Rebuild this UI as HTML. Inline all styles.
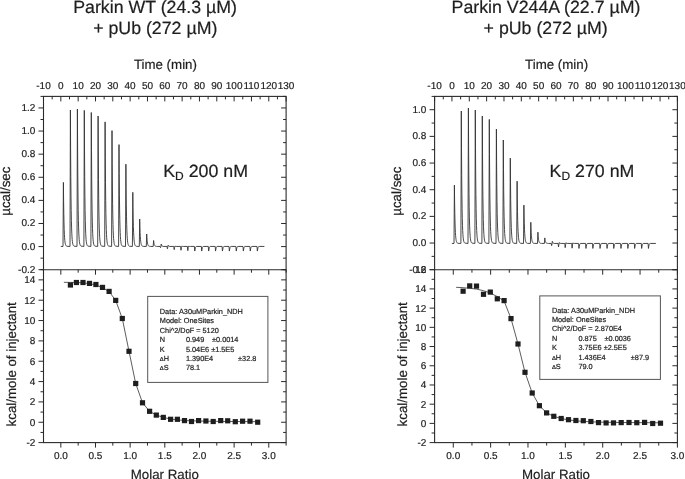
<!DOCTYPE html>
<html><head><meta charset="utf-8"><style>
html,body{margin:0;padding:0;background:#fff;}
body{width:685px;height:479px;overflow:hidden;}
svg{display:block;will-change:transform;}
text{font-family:"Liberation Sans",sans-serif;fill:#1e1e1e;text-rendering:geometricPrecision;stroke:#1e1e1e;stroke-width:0.2px;}
</style></head><body>
<svg width="685" height="479" viewBox="0 0 685 479">
<rect x="43.5" y="96.4" width="242.6" height="346.2" fill="none" stroke="#2a2a2a" stroke-width="1.1"/>
<line x1="43.5" y1="269.7" x2="286.1" y2="269.7" stroke="#2a2a2a" stroke-width="1.1"/>
<line x1="43.5" y1="96.4" x2="43.5" y2="101.4" stroke="#2a2a2a" stroke-width="1.0"/>
<text x="43.5" y="89.4" font-size="10" text-anchor="middle" >-10</text>
<line x1="52.16" y1="96.4" x2="52.16" y2="99.4" stroke="#2a2a2a" stroke-width="1.0"/>
<line x1="60.83" y1="96.4" x2="60.83" y2="101.4" stroke="#2a2a2a" stroke-width="1.0"/>
<text x="60.83" y="89.4" font-size="10" text-anchor="middle" >0</text>
<line x1="69.49" y1="96.4" x2="69.49" y2="99.4" stroke="#2a2a2a" stroke-width="1.0"/>
<line x1="78.16" y1="96.4" x2="78.16" y2="101.4" stroke="#2a2a2a" stroke-width="1.0"/>
<text x="78.16" y="89.4" font-size="10" text-anchor="middle" >10</text>
<line x1="86.82" y1="96.4" x2="86.82" y2="99.4" stroke="#2a2a2a" stroke-width="1.0"/>
<line x1="95.49" y1="96.4" x2="95.49" y2="101.4" stroke="#2a2a2a" stroke-width="1.0"/>
<text x="95.49" y="89.4" font-size="10" text-anchor="middle" >20</text>
<line x1="104.15" y1="96.4" x2="104.15" y2="99.4" stroke="#2a2a2a" stroke-width="1.0"/>
<line x1="112.81" y1="96.4" x2="112.81" y2="101.4" stroke="#2a2a2a" stroke-width="1.0"/>
<text x="112.81" y="89.4" font-size="10" text-anchor="middle" >30</text>
<line x1="121.48" y1="96.4" x2="121.48" y2="99.4" stroke="#2a2a2a" stroke-width="1.0"/>
<line x1="130.14" y1="96.4" x2="130.14" y2="101.4" stroke="#2a2a2a" stroke-width="1.0"/>
<text x="130.14" y="89.4" font-size="10" text-anchor="middle" >40</text>
<line x1="138.81" y1="96.4" x2="138.81" y2="99.4" stroke="#2a2a2a" stroke-width="1.0"/>
<line x1="147.47" y1="96.4" x2="147.47" y2="101.4" stroke="#2a2a2a" stroke-width="1.0"/>
<text x="147.47" y="89.4" font-size="10" text-anchor="middle" >50</text>
<line x1="156.14" y1="96.4" x2="156.14" y2="99.4" stroke="#2a2a2a" stroke-width="1.0"/>
<line x1="164.8" y1="96.4" x2="164.8" y2="101.4" stroke="#2a2a2a" stroke-width="1.0"/>
<text x="164.8" y="89.4" font-size="10" text-anchor="middle" >60</text>
<line x1="173.46" y1="96.4" x2="173.46" y2="99.4" stroke="#2a2a2a" stroke-width="1.0"/>
<line x1="182.13" y1="96.4" x2="182.13" y2="101.4" stroke="#2a2a2a" stroke-width="1.0"/>
<text x="182.13" y="89.4" font-size="10" text-anchor="middle" >70</text>
<line x1="190.79" y1="96.4" x2="190.79" y2="99.4" stroke="#2a2a2a" stroke-width="1.0"/>
<line x1="199.46" y1="96.4" x2="199.46" y2="101.4" stroke="#2a2a2a" stroke-width="1.0"/>
<text x="199.46" y="89.4" font-size="10" text-anchor="middle" >80</text>
<line x1="208.12" y1="96.4" x2="208.12" y2="99.4" stroke="#2a2a2a" stroke-width="1.0"/>
<line x1="216.79" y1="96.4" x2="216.79" y2="101.4" stroke="#2a2a2a" stroke-width="1.0"/>
<text x="216.79" y="89.4" font-size="10" text-anchor="middle" >90</text>
<line x1="225.45" y1="96.4" x2="225.45" y2="99.4" stroke="#2a2a2a" stroke-width="1.0"/>
<line x1="234.11" y1="96.4" x2="234.11" y2="101.4" stroke="#2a2a2a" stroke-width="1.0"/>
<text x="234.11" y="89.4" font-size="10" text-anchor="middle" >100</text>
<line x1="242.78" y1="96.4" x2="242.78" y2="99.4" stroke="#2a2a2a" stroke-width="1.0"/>
<line x1="251.44" y1="96.4" x2="251.44" y2="101.4" stroke="#2a2a2a" stroke-width="1.0"/>
<text x="251.44" y="89.4" font-size="10" text-anchor="middle" >110</text>
<line x1="260.11" y1="96.4" x2="260.11" y2="99.4" stroke="#2a2a2a" stroke-width="1.0"/>
<line x1="268.77" y1="96.4" x2="268.77" y2="101.4" stroke="#2a2a2a" stroke-width="1.0"/>
<text x="268.77" y="89.4" font-size="10" text-anchor="middle" >120</text>
<line x1="277.44" y1="96.4" x2="277.44" y2="99.4" stroke="#2a2a2a" stroke-width="1.0"/>
<line x1="286.1" y1="96.4" x2="286.1" y2="101.4" stroke="#2a2a2a" stroke-width="1.0"/>
<text x="286.1" y="89.4" font-size="10" text-anchor="middle" >130</text>
<line x1="38.5" y1="269.7" x2="43.5" y2="269.7" stroke="#2a2a2a" stroke-width="1.0"/>
<line x1="281.1" y1="269.7" x2="286.1" y2="269.7" stroke="#2a2a2a" stroke-width="1.0"/>
<text x="35.3" y="272.7" font-size="10" text-anchor="end" >-0.2</text>
<line x1="40.5" y1="258.15" x2="43.5" y2="258.15" stroke="#2a2a2a" stroke-width="1.0"/>
<line x1="283.1" y1="258.15" x2="286.1" y2="258.15" stroke="#2a2a2a" stroke-width="1.0"/>
<line x1="38.5" y1="246.59" x2="43.5" y2="246.59" stroke="#2a2a2a" stroke-width="1.0"/>
<line x1="281.1" y1="246.59" x2="286.1" y2="246.59" stroke="#2a2a2a" stroke-width="1.0"/>
<text x="35.3" y="249.59" font-size="10" text-anchor="end" >0.0</text>
<line x1="40.5" y1="235.04" x2="43.5" y2="235.04" stroke="#2a2a2a" stroke-width="1.0"/>
<line x1="283.1" y1="235.04" x2="286.1" y2="235.04" stroke="#2a2a2a" stroke-width="1.0"/>
<line x1="38.5" y1="223.49" x2="43.5" y2="223.49" stroke="#2a2a2a" stroke-width="1.0"/>
<line x1="281.1" y1="223.49" x2="286.1" y2="223.49" stroke="#2a2a2a" stroke-width="1.0"/>
<text x="35.3" y="226.49" font-size="10" text-anchor="end" >0.2</text>
<line x1="40.5" y1="211.93" x2="43.5" y2="211.93" stroke="#2a2a2a" stroke-width="1.0"/>
<line x1="283.1" y1="211.93" x2="286.1" y2="211.93" stroke="#2a2a2a" stroke-width="1.0"/>
<line x1="38.5" y1="200.38" x2="43.5" y2="200.38" stroke="#2a2a2a" stroke-width="1.0"/>
<line x1="281.1" y1="200.38" x2="286.1" y2="200.38" stroke="#2a2a2a" stroke-width="1.0"/>
<text x="35.3" y="203.38" font-size="10" text-anchor="end" >0.4</text>
<line x1="40.5" y1="188.83" x2="43.5" y2="188.83" stroke="#2a2a2a" stroke-width="1.0"/>
<line x1="283.1" y1="188.83" x2="286.1" y2="188.83" stroke="#2a2a2a" stroke-width="1.0"/>
<line x1="38.5" y1="177.27" x2="43.5" y2="177.27" stroke="#2a2a2a" stroke-width="1.0"/>
<line x1="281.1" y1="177.27" x2="286.1" y2="177.27" stroke="#2a2a2a" stroke-width="1.0"/>
<text x="35.3" y="180.27" font-size="10" text-anchor="end" >0.6</text>
<line x1="40.5" y1="165.72" x2="43.5" y2="165.72" stroke="#2a2a2a" stroke-width="1.0"/>
<line x1="283.1" y1="165.72" x2="286.1" y2="165.72" stroke="#2a2a2a" stroke-width="1.0"/>
<line x1="38.5" y1="154.17" x2="43.5" y2="154.17" stroke="#2a2a2a" stroke-width="1.0"/>
<line x1="281.1" y1="154.17" x2="286.1" y2="154.17" stroke="#2a2a2a" stroke-width="1.0"/>
<text x="35.3" y="157.17" font-size="10" text-anchor="end" >0.8</text>
<line x1="40.5" y1="142.61" x2="43.5" y2="142.61" stroke="#2a2a2a" stroke-width="1.0"/>
<line x1="283.1" y1="142.61" x2="286.1" y2="142.61" stroke="#2a2a2a" stroke-width="1.0"/>
<line x1="38.5" y1="131.06" x2="43.5" y2="131.06" stroke="#2a2a2a" stroke-width="1.0"/>
<line x1="281.1" y1="131.06" x2="286.1" y2="131.06" stroke="#2a2a2a" stroke-width="1.0"/>
<text x="35.3" y="134.06" font-size="10" text-anchor="end" >1.0</text>
<line x1="40.5" y1="119.51" x2="43.5" y2="119.51" stroke="#2a2a2a" stroke-width="1.0"/>
<line x1="283.1" y1="119.51" x2="286.1" y2="119.51" stroke="#2a2a2a" stroke-width="1.0"/>
<line x1="38.5" y1="107.95" x2="43.5" y2="107.95" stroke="#2a2a2a" stroke-width="1.0"/>
<line x1="281.1" y1="107.95" x2="286.1" y2="107.95" stroke="#2a2a2a" stroke-width="1.0"/>
<text x="35.3" y="110.95" font-size="10" text-anchor="end" >1.2</text>
<line x1="40.5" y1="96.4" x2="43.5" y2="96.4" stroke="#2a2a2a" stroke-width="1.0"/>
<line x1="283.1" y1="96.4" x2="286.1" y2="96.4" stroke="#2a2a2a" stroke-width="1.0"/>
<line x1="60.83" y1="269.7" x2="60.83" y2="274.7" stroke="#2a2a2a" stroke-width="1.0"/>
<line x1="60.83" y1="442.6" x2="60.83" y2="447.6" stroke="#2a2a2a" stroke-width="1.0"/>
<text x="60.83" y="458.8" font-size="10" text-anchor="middle" >0.0</text>
<line x1="78.16" y1="269.7" x2="78.16" y2="272.7" stroke="#2a2a2a" stroke-width="1.0"/>
<line x1="78.16" y1="442.6" x2="78.16" y2="445.6" stroke="#2a2a2a" stroke-width="1.0"/>
<line x1="95.49" y1="269.7" x2="95.49" y2="274.7" stroke="#2a2a2a" stroke-width="1.0"/>
<line x1="95.49" y1="442.6" x2="95.49" y2="447.6" stroke="#2a2a2a" stroke-width="1.0"/>
<text x="95.49" y="458.8" font-size="10" text-anchor="middle" >0.5</text>
<line x1="112.81" y1="269.7" x2="112.81" y2="272.7" stroke="#2a2a2a" stroke-width="1.0"/>
<line x1="112.81" y1="442.6" x2="112.81" y2="445.6" stroke="#2a2a2a" stroke-width="1.0"/>
<line x1="130.14" y1="269.7" x2="130.14" y2="274.7" stroke="#2a2a2a" stroke-width="1.0"/>
<line x1="130.14" y1="442.6" x2="130.14" y2="447.6" stroke="#2a2a2a" stroke-width="1.0"/>
<text x="130.14" y="458.8" font-size="10" text-anchor="middle" >1.0</text>
<line x1="147.47" y1="269.7" x2="147.47" y2="272.7" stroke="#2a2a2a" stroke-width="1.0"/>
<line x1="147.47" y1="442.6" x2="147.47" y2="445.6" stroke="#2a2a2a" stroke-width="1.0"/>
<line x1="164.8" y1="269.7" x2="164.8" y2="274.7" stroke="#2a2a2a" stroke-width="1.0"/>
<line x1="164.8" y1="442.6" x2="164.8" y2="447.6" stroke="#2a2a2a" stroke-width="1.0"/>
<text x="164.8" y="458.8" font-size="10" text-anchor="middle" >1.5</text>
<line x1="182.13" y1="269.7" x2="182.13" y2="272.7" stroke="#2a2a2a" stroke-width="1.0"/>
<line x1="182.13" y1="442.6" x2="182.13" y2="445.6" stroke="#2a2a2a" stroke-width="1.0"/>
<line x1="199.46" y1="269.7" x2="199.46" y2="274.7" stroke="#2a2a2a" stroke-width="1.0"/>
<line x1="199.46" y1="442.6" x2="199.46" y2="447.6" stroke="#2a2a2a" stroke-width="1.0"/>
<text x="199.46" y="458.8" font-size="10" text-anchor="middle" >2.0</text>
<line x1="216.79" y1="269.7" x2="216.79" y2="272.7" stroke="#2a2a2a" stroke-width="1.0"/>
<line x1="216.79" y1="442.6" x2="216.79" y2="445.6" stroke="#2a2a2a" stroke-width="1.0"/>
<line x1="234.11" y1="269.7" x2="234.11" y2="274.7" stroke="#2a2a2a" stroke-width="1.0"/>
<line x1="234.11" y1="442.6" x2="234.11" y2="447.6" stroke="#2a2a2a" stroke-width="1.0"/>
<text x="234.11" y="458.8" font-size="10" text-anchor="middle" >2.5</text>
<line x1="251.44" y1="269.7" x2="251.44" y2="272.7" stroke="#2a2a2a" stroke-width="1.0"/>
<line x1="251.44" y1="442.6" x2="251.44" y2="445.6" stroke="#2a2a2a" stroke-width="1.0"/>
<line x1="268.77" y1="269.7" x2="268.77" y2="274.7" stroke="#2a2a2a" stroke-width="1.0"/>
<line x1="268.77" y1="442.6" x2="268.77" y2="447.6" stroke="#2a2a2a" stroke-width="1.0"/>
<text x="268.77" y="458.8" font-size="10" text-anchor="middle" >3.0</text>
<line x1="286.1" y1="269.7" x2="286.1" y2="272.7" stroke="#2a2a2a" stroke-width="1.0"/>
<line x1="286.1" y1="442.6" x2="286.1" y2="445.6" stroke="#2a2a2a" stroke-width="1.0"/>
<line x1="38.5" y1="442.6" x2="43.5" y2="442.6" stroke="#2a2a2a" stroke-width="1.0"/>
<line x1="281.1" y1="442.6" x2="286.1" y2="442.6" stroke="#2a2a2a" stroke-width="1.0"/>
<text x="35.3" y="446.1" font-size="10" text-anchor="end" >-2</text>
<line x1="40.5" y1="432.43" x2="43.5" y2="432.43" stroke="#2a2a2a" stroke-width="1.0"/>
<line x1="283.1" y1="432.43" x2="286.1" y2="432.43" stroke="#2a2a2a" stroke-width="1.0"/>
<line x1="38.5" y1="422.26" x2="43.5" y2="422.26" stroke="#2a2a2a" stroke-width="1.0"/>
<line x1="281.1" y1="422.26" x2="286.1" y2="422.26" stroke="#2a2a2a" stroke-width="1.0"/>
<text x="35.3" y="425.76" font-size="10" text-anchor="end" >0</text>
<line x1="40.5" y1="412.09" x2="43.5" y2="412.09" stroke="#2a2a2a" stroke-width="1.0"/>
<line x1="283.1" y1="412.09" x2="286.1" y2="412.09" stroke="#2a2a2a" stroke-width="1.0"/>
<line x1="38.5" y1="401.92" x2="43.5" y2="401.92" stroke="#2a2a2a" stroke-width="1.0"/>
<line x1="281.1" y1="401.92" x2="286.1" y2="401.92" stroke="#2a2a2a" stroke-width="1.0"/>
<text x="35.3" y="405.42" font-size="10" text-anchor="end" >2</text>
<line x1="40.5" y1="391.75" x2="43.5" y2="391.75" stroke="#2a2a2a" stroke-width="1.0"/>
<line x1="283.1" y1="391.75" x2="286.1" y2="391.75" stroke="#2a2a2a" stroke-width="1.0"/>
<line x1="38.5" y1="381.58" x2="43.5" y2="381.58" stroke="#2a2a2a" stroke-width="1.0"/>
<line x1="281.1" y1="381.58" x2="286.1" y2="381.58" stroke="#2a2a2a" stroke-width="1.0"/>
<text x="35.3" y="385.08" font-size="10" text-anchor="end" >4</text>
<line x1="40.5" y1="371.41" x2="43.5" y2="371.41" stroke="#2a2a2a" stroke-width="1.0"/>
<line x1="283.1" y1="371.41" x2="286.1" y2="371.41" stroke="#2a2a2a" stroke-width="1.0"/>
<line x1="38.5" y1="361.24" x2="43.5" y2="361.24" stroke="#2a2a2a" stroke-width="1.0"/>
<line x1="281.1" y1="361.24" x2="286.1" y2="361.24" stroke="#2a2a2a" stroke-width="1.0"/>
<text x="35.3" y="364.74" font-size="10" text-anchor="end" >6</text>
<line x1="40.5" y1="351.06" x2="43.5" y2="351.06" stroke="#2a2a2a" stroke-width="1.0"/>
<line x1="283.1" y1="351.06" x2="286.1" y2="351.06" stroke="#2a2a2a" stroke-width="1.0"/>
<line x1="38.5" y1="340.89" x2="43.5" y2="340.89" stroke="#2a2a2a" stroke-width="1.0"/>
<line x1="281.1" y1="340.89" x2="286.1" y2="340.89" stroke="#2a2a2a" stroke-width="1.0"/>
<text x="35.3" y="344.39" font-size="10" text-anchor="end" >8</text>
<line x1="40.5" y1="330.72" x2="43.5" y2="330.72" stroke="#2a2a2a" stroke-width="1.0"/>
<line x1="283.1" y1="330.72" x2="286.1" y2="330.72" stroke="#2a2a2a" stroke-width="1.0"/>
<line x1="38.5" y1="320.55" x2="43.5" y2="320.55" stroke="#2a2a2a" stroke-width="1.0"/>
<line x1="281.1" y1="320.55" x2="286.1" y2="320.55" stroke="#2a2a2a" stroke-width="1.0"/>
<text x="35.3" y="324.05" font-size="10" text-anchor="end" >10</text>
<line x1="40.5" y1="310.38" x2="43.5" y2="310.38" stroke="#2a2a2a" stroke-width="1.0"/>
<line x1="283.1" y1="310.38" x2="286.1" y2="310.38" stroke="#2a2a2a" stroke-width="1.0"/>
<line x1="38.5" y1="300.21" x2="43.5" y2="300.21" stroke="#2a2a2a" stroke-width="1.0"/>
<line x1="281.1" y1="300.21" x2="286.1" y2="300.21" stroke="#2a2a2a" stroke-width="1.0"/>
<text x="35.3" y="303.71" font-size="10" text-anchor="end" >12</text>
<line x1="40.5" y1="290.04" x2="43.5" y2="290.04" stroke="#2a2a2a" stroke-width="1.0"/>
<line x1="283.1" y1="290.04" x2="286.1" y2="290.04" stroke="#2a2a2a" stroke-width="1.0"/>
<line x1="38.5" y1="279.87" x2="43.5" y2="279.87" stroke="#2a2a2a" stroke-width="1.0"/>
<line x1="281.1" y1="279.87" x2="286.1" y2="279.87" stroke="#2a2a2a" stroke-width="1.0"/>
<text x="35.3" y="283.37" font-size="10" text-anchor="end" >14</text>
<line x1="40.5" y1="269.7" x2="43.5" y2="269.7" stroke="#2a2a2a" stroke-width="1.0"/>
<line x1="283.1" y1="269.7" x2="286.1" y2="269.7" stroke="#2a2a2a" stroke-width="1.0"/>
<text x="165.4" y="69.4" font-size="13.3" text-anchor="middle" >Time (min)</text>
<text x="164.8" y="478.6" font-size="13.3" text-anchor="middle" >Molar Ratio</text>
<text x="155.1" y="12.9" font-size="17.75" text-anchor="middle" >Parkin WT (24.3 µM)</text>
<text x="155.25" y="34" font-size="17.75" text-anchor="middle" >+ pUb (272 µM)</text>
<text x="163.2" y="176.6" font-size="17.8">K<tspan font-size="12" dy="3.3">D</tspan><tspan dy="-3.3"> 200 nM</tspan></text>
<rect x="434.6" y="96.4" width="242.8" height="346.2" fill="none" stroke="#2a2a2a" stroke-width="1.1"/>
<line x1="434.6" y1="269.7" x2="677.4" y2="269.7" stroke="#2a2a2a" stroke-width="1.1"/>
<line x1="434.6" y1="96.4" x2="434.6" y2="101.4" stroke="#2a2a2a" stroke-width="1.0"/>
<text x="434.6" y="89.4" font-size="10" text-anchor="middle" >-10</text>
<line x1="443.27" y1="96.4" x2="443.27" y2="99.4" stroke="#2a2a2a" stroke-width="1.0"/>
<line x1="451.94" y1="96.4" x2="451.94" y2="101.4" stroke="#2a2a2a" stroke-width="1.0"/>
<text x="451.94" y="89.4" font-size="10" text-anchor="middle" >0</text>
<line x1="460.61" y1="96.4" x2="460.61" y2="99.4" stroke="#2a2a2a" stroke-width="1.0"/>
<line x1="469.29" y1="96.4" x2="469.29" y2="101.4" stroke="#2a2a2a" stroke-width="1.0"/>
<text x="469.29" y="89.4" font-size="10" text-anchor="middle" >10</text>
<line x1="477.96" y1="96.4" x2="477.96" y2="99.4" stroke="#2a2a2a" stroke-width="1.0"/>
<line x1="486.63" y1="96.4" x2="486.63" y2="101.4" stroke="#2a2a2a" stroke-width="1.0"/>
<text x="486.63" y="89.4" font-size="10" text-anchor="middle" >20</text>
<line x1="495.3" y1="96.4" x2="495.3" y2="99.4" stroke="#2a2a2a" stroke-width="1.0"/>
<line x1="503.97" y1="96.4" x2="503.97" y2="101.4" stroke="#2a2a2a" stroke-width="1.0"/>
<text x="503.97" y="89.4" font-size="10" text-anchor="middle" >30</text>
<line x1="512.64" y1="96.4" x2="512.64" y2="99.4" stroke="#2a2a2a" stroke-width="1.0"/>
<line x1="521.31" y1="96.4" x2="521.31" y2="101.4" stroke="#2a2a2a" stroke-width="1.0"/>
<text x="521.31" y="89.4" font-size="10" text-anchor="middle" >40</text>
<line x1="529.99" y1="96.4" x2="529.99" y2="99.4" stroke="#2a2a2a" stroke-width="1.0"/>
<line x1="538.66" y1="96.4" x2="538.66" y2="101.4" stroke="#2a2a2a" stroke-width="1.0"/>
<text x="538.66" y="89.4" font-size="10" text-anchor="middle" >50</text>
<line x1="547.33" y1="96.4" x2="547.33" y2="99.4" stroke="#2a2a2a" stroke-width="1.0"/>
<line x1="556" y1="96.4" x2="556" y2="101.4" stroke="#2a2a2a" stroke-width="1.0"/>
<text x="556" y="89.4" font-size="10" text-anchor="middle" >60</text>
<line x1="564.67" y1="96.4" x2="564.67" y2="99.4" stroke="#2a2a2a" stroke-width="1.0"/>
<line x1="573.34" y1="96.4" x2="573.34" y2="101.4" stroke="#2a2a2a" stroke-width="1.0"/>
<text x="573.34" y="89.4" font-size="10" text-anchor="middle" >70</text>
<line x1="582.01" y1="96.4" x2="582.01" y2="99.4" stroke="#2a2a2a" stroke-width="1.0"/>
<line x1="590.69" y1="96.4" x2="590.69" y2="101.4" stroke="#2a2a2a" stroke-width="1.0"/>
<text x="590.69" y="89.4" font-size="10" text-anchor="middle" >80</text>
<line x1="599.36" y1="96.4" x2="599.36" y2="99.4" stroke="#2a2a2a" stroke-width="1.0"/>
<line x1="608.03" y1="96.4" x2="608.03" y2="101.4" stroke="#2a2a2a" stroke-width="1.0"/>
<text x="608.03" y="89.4" font-size="10" text-anchor="middle" >90</text>
<line x1="616.7" y1="96.4" x2="616.7" y2="99.4" stroke="#2a2a2a" stroke-width="1.0"/>
<line x1="625.37" y1="96.4" x2="625.37" y2="101.4" stroke="#2a2a2a" stroke-width="1.0"/>
<text x="625.37" y="89.4" font-size="10" text-anchor="middle" >100</text>
<line x1="634.04" y1="96.4" x2="634.04" y2="99.4" stroke="#2a2a2a" stroke-width="1.0"/>
<line x1="642.71" y1="96.4" x2="642.71" y2="101.4" stroke="#2a2a2a" stroke-width="1.0"/>
<text x="642.71" y="89.4" font-size="10" text-anchor="middle" >110</text>
<line x1="651.39" y1="96.4" x2="651.39" y2="99.4" stroke="#2a2a2a" stroke-width="1.0"/>
<line x1="660.06" y1="96.4" x2="660.06" y2="101.4" stroke="#2a2a2a" stroke-width="1.0"/>
<text x="660.06" y="89.4" font-size="10" text-anchor="middle" >120</text>
<line x1="668.73" y1="96.4" x2="668.73" y2="99.4" stroke="#2a2a2a" stroke-width="1.0"/>
<line x1="677.4" y1="96.4" x2="677.4" y2="101.4" stroke="#2a2a2a" stroke-width="1.0"/>
<text x="677.4" y="89.4" font-size="10" text-anchor="middle" >130</text>
<line x1="429.6" y1="269.7" x2="434.6" y2="269.7" stroke="#2a2a2a" stroke-width="1.0"/>
<line x1="672.4" y1="269.7" x2="677.4" y2="269.7" stroke="#2a2a2a" stroke-width="1.0"/>
<text x="426.4" y="272.7" font-size="10" text-anchor="end" >-0.2</text>
<line x1="431.6" y1="256.37" x2="434.6" y2="256.37" stroke="#2a2a2a" stroke-width="1.0"/>
<line x1="674.4" y1="256.37" x2="677.4" y2="256.37" stroke="#2a2a2a" stroke-width="1.0"/>
<line x1="429.6" y1="243.04" x2="434.6" y2="243.04" stroke="#2a2a2a" stroke-width="1.0"/>
<line x1="672.4" y1="243.04" x2="677.4" y2="243.04" stroke="#2a2a2a" stroke-width="1.0"/>
<text x="426.4" y="246.04" font-size="10" text-anchor="end" >0.0</text>
<line x1="431.6" y1="229.71" x2="434.6" y2="229.71" stroke="#2a2a2a" stroke-width="1.0"/>
<line x1="674.4" y1="229.71" x2="677.4" y2="229.71" stroke="#2a2a2a" stroke-width="1.0"/>
<line x1="429.6" y1="216.38" x2="434.6" y2="216.38" stroke="#2a2a2a" stroke-width="1.0"/>
<line x1="672.4" y1="216.38" x2="677.4" y2="216.38" stroke="#2a2a2a" stroke-width="1.0"/>
<text x="426.4" y="219.38" font-size="10" text-anchor="end" >0.2</text>
<line x1="431.6" y1="203.05" x2="434.6" y2="203.05" stroke="#2a2a2a" stroke-width="1.0"/>
<line x1="674.4" y1="203.05" x2="677.4" y2="203.05" stroke="#2a2a2a" stroke-width="1.0"/>
<line x1="429.6" y1="189.72" x2="434.6" y2="189.72" stroke="#2a2a2a" stroke-width="1.0"/>
<line x1="672.4" y1="189.72" x2="677.4" y2="189.72" stroke="#2a2a2a" stroke-width="1.0"/>
<text x="426.4" y="192.72" font-size="10" text-anchor="end" >0.4</text>
<line x1="431.6" y1="176.38" x2="434.6" y2="176.38" stroke="#2a2a2a" stroke-width="1.0"/>
<line x1="674.4" y1="176.38" x2="677.4" y2="176.38" stroke="#2a2a2a" stroke-width="1.0"/>
<line x1="429.6" y1="163.05" x2="434.6" y2="163.05" stroke="#2a2a2a" stroke-width="1.0"/>
<line x1="672.4" y1="163.05" x2="677.4" y2="163.05" stroke="#2a2a2a" stroke-width="1.0"/>
<text x="426.4" y="166.05" font-size="10" text-anchor="end" >0.6</text>
<line x1="431.6" y1="149.72" x2="434.6" y2="149.72" stroke="#2a2a2a" stroke-width="1.0"/>
<line x1="674.4" y1="149.72" x2="677.4" y2="149.72" stroke="#2a2a2a" stroke-width="1.0"/>
<line x1="429.6" y1="136.39" x2="434.6" y2="136.39" stroke="#2a2a2a" stroke-width="1.0"/>
<line x1="672.4" y1="136.39" x2="677.4" y2="136.39" stroke="#2a2a2a" stroke-width="1.0"/>
<text x="426.4" y="139.39" font-size="10" text-anchor="end" >0.8</text>
<line x1="431.6" y1="123.06" x2="434.6" y2="123.06" stroke="#2a2a2a" stroke-width="1.0"/>
<line x1="674.4" y1="123.06" x2="677.4" y2="123.06" stroke="#2a2a2a" stroke-width="1.0"/>
<line x1="429.6" y1="109.73" x2="434.6" y2="109.73" stroke="#2a2a2a" stroke-width="1.0"/>
<line x1="672.4" y1="109.73" x2="677.4" y2="109.73" stroke="#2a2a2a" stroke-width="1.0"/>
<text x="426.4" y="112.73" font-size="10" text-anchor="end" >1.0</text>
<line x1="431.6" y1="96.4" x2="434.6" y2="96.4" stroke="#2a2a2a" stroke-width="1.0"/>
<line x1="674.4" y1="96.4" x2="677.4" y2="96.4" stroke="#2a2a2a" stroke-width="1.0"/>
<line x1="453.28" y1="269.7" x2="453.28" y2="274.7" stroke="#2a2a2a" stroke-width="1.0"/>
<line x1="453.28" y1="442.6" x2="453.28" y2="447.6" stroke="#2a2a2a" stroke-width="1.0"/>
<text x="453.28" y="458.8" font-size="10" text-anchor="middle" >0.0</text>
<line x1="471.95" y1="269.7" x2="471.95" y2="272.7" stroke="#2a2a2a" stroke-width="1.0"/>
<line x1="471.95" y1="442.6" x2="471.95" y2="445.6" stroke="#2a2a2a" stroke-width="1.0"/>
<line x1="490.63" y1="269.7" x2="490.63" y2="274.7" stroke="#2a2a2a" stroke-width="1.0"/>
<line x1="490.63" y1="442.6" x2="490.63" y2="447.6" stroke="#2a2a2a" stroke-width="1.0"/>
<text x="490.63" y="458.8" font-size="10" text-anchor="middle" >0.5</text>
<line x1="509.31" y1="269.7" x2="509.31" y2="272.7" stroke="#2a2a2a" stroke-width="1.0"/>
<line x1="509.31" y1="442.6" x2="509.31" y2="445.6" stroke="#2a2a2a" stroke-width="1.0"/>
<line x1="527.98" y1="269.7" x2="527.98" y2="274.7" stroke="#2a2a2a" stroke-width="1.0"/>
<line x1="527.98" y1="442.6" x2="527.98" y2="447.6" stroke="#2a2a2a" stroke-width="1.0"/>
<text x="527.98" y="458.8" font-size="10" text-anchor="middle" >1.0</text>
<line x1="546.66" y1="269.7" x2="546.66" y2="272.7" stroke="#2a2a2a" stroke-width="1.0"/>
<line x1="546.66" y1="442.6" x2="546.66" y2="445.6" stroke="#2a2a2a" stroke-width="1.0"/>
<line x1="565.34" y1="269.7" x2="565.34" y2="274.7" stroke="#2a2a2a" stroke-width="1.0"/>
<line x1="565.34" y1="442.6" x2="565.34" y2="447.6" stroke="#2a2a2a" stroke-width="1.0"/>
<text x="565.34" y="458.8" font-size="10" text-anchor="middle" >1.5</text>
<line x1="584.02" y1="269.7" x2="584.02" y2="272.7" stroke="#2a2a2a" stroke-width="1.0"/>
<line x1="584.02" y1="442.6" x2="584.02" y2="445.6" stroke="#2a2a2a" stroke-width="1.0"/>
<line x1="602.69" y1="269.7" x2="602.69" y2="274.7" stroke="#2a2a2a" stroke-width="1.0"/>
<line x1="602.69" y1="442.6" x2="602.69" y2="447.6" stroke="#2a2a2a" stroke-width="1.0"/>
<text x="602.69" y="458.8" font-size="10" text-anchor="middle" >2.0</text>
<line x1="621.37" y1="269.7" x2="621.37" y2="272.7" stroke="#2a2a2a" stroke-width="1.0"/>
<line x1="621.37" y1="442.6" x2="621.37" y2="445.6" stroke="#2a2a2a" stroke-width="1.0"/>
<line x1="640.05" y1="269.7" x2="640.05" y2="274.7" stroke="#2a2a2a" stroke-width="1.0"/>
<line x1="640.05" y1="442.6" x2="640.05" y2="447.6" stroke="#2a2a2a" stroke-width="1.0"/>
<text x="640.05" y="458.8" font-size="10" text-anchor="middle" >2.5</text>
<line x1="658.72" y1="269.7" x2="658.72" y2="272.7" stroke="#2a2a2a" stroke-width="1.0"/>
<line x1="658.72" y1="442.6" x2="658.72" y2="445.6" stroke="#2a2a2a" stroke-width="1.0"/>
<line x1="677.4" y1="269.7" x2="677.4" y2="274.7" stroke="#2a2a2a" stroke-width="1.0"/>
<line x1="677.4" y1="442.6" x2="677.4" y2="447.6" stroke="#2a2a2a" stroke-width="1.0"/>
<text x="677.4" y="458.8" font-size="10" text-anchor="middle" >3.0</text>
<line x1="429.6" y1="442.6" x2="434.6" y2="442.6" stroke="#2a2a2a" stroke-width="1.0"/>
<line x1="672.4" y1="442.6" x2="677.4" y2="442.6" stroke="#2a2a2a" stroke-width="1.0"/>
<text x="426.4" y="446.1" font-size="10" text-anchor="end" >-2</text>
<line x1="431.6" y1="432.99" x2="434.6" y2="432.99" stroke="#2a2a2a" stroke-width="1.0"/>
<line x1="674.4" y1="432.99" x2="677.4" y2="432.99" stroke="#2a2a2a" stroke-width="1.0"/>
<line x1="429.6" y1="423.39" x2="434.6" y2="423.39" stroke="#2a2a2a" stroke-width="1.0"/>
<line x1="672.4" y1="423.39" x2="677.4" y2="423.39" stroke="#2a2a2a" stroke-width="1.0"/>
<text x="426.4" y="426.89" font-size="10" text-anchor="end" >0</text>
<line x1="431.6" y1="413.78" x2="434.6" y2="413.78" stroke="#2a2a2a" stroke-width="1.0"/>
<line x1="674.4" y1="413.78" x2="677.4" y2="413.78" stroke="#2a2a2a" stroke-width="1.0"/>
<line x1="429.6" y1="404.18" x2="434.6" y2="404.18" stroke="#2a2a2a" stroke-width="1.0"/>
<line x1="672.4" y1="404.18" x2="677.4" y2="404.18" stroke="#2a2a2a" stroke-width="1.0"/>
<text x="426.4" y="407.68" font-size="10" text-anchor="end" >2</text>
<line x1="431.6" y1="394.57" x2="434.6" y2="394.57" stroke="#2a2a2a" stroke-width="1.0"/>
<line x1="674.4" y1="394.57" x2="677.4" y2="394.57" stroke="#2a2a2a" stroke-width="1.0"/>
<line x1="429.6" y1="384.97" x2="434.6" y2="384.97" stroke="#2a2a2a" stroke-width="1.0"/>
<line x1="672.4" y1="384.97" x2="677.4" y2="384.97" stroke="#2a2a2a" stroke-width="1.0"/>
<text x="426.4" y="388.47" font-size="10" text-anchor="end" >4</text>
<line x1="431.6" y1="375.36" x2="434.6" y2="375.36" stroke="#2a2a2a" stroke-width="1.0"/>
<line x1="674.4" y1="375.36" x2="677.4" y2="375.36" stroke="#2a2a2a" stroke-width="1.0"/>
<line x1="429.6" y1="365.76" x2="434.6" y2="365.76" stroke="#2a2a2a" stroke-width="1.0"/>
<line x1="672.4" y1="365.76" x2="677.4" y2="365.76" stroke="#2a2a2a" stroke-width="1.0"/>
<text x="426.4" y="369.26" font-size="10" text-anchor="end" >6</text>
<line x1="431.6" y1="356.15" x2="434.6" y2="356.15" stroke="#2a2a2a" stroke-width="1.0"/>
<line x1="674.4" y1="356.15" x2="677.4" y2="356.15" stroke="#2a2a2a" stroke-width="1.0"/>
<line x1="429.6" y1="346.54" x2="434.6" y2="346.54" stroke="#2a2a2a" stroke-width="1.0"/>
<line x1="672.4" y1="346.54" x2="677.4" y2="346.54" stroke="#2a2a2a" stroke-width="1.0"/>
<text x="426.4" y="350.04" font-size="10" text-anchor="end" >8</text>
<line x1="431.6" y1="336.94" x2="434.6" y2="336.94" stroke="#2a2a2a" stroke-width="1.0"/>
<line x1="674.4" y1="336.94" x2="677.4" y2="336.94" stroke="#2a2a2a" stroke-width="1.0"/>
<line x1="429.6" y1="327.33" x2="434.6" y2="327.33" stroke="#2a2a2a" stroke-width="1.0"/>
<line x1="672.4" y1="327.33" x2="677.4" y2="327.33" stroke="#2a2a2a" stroke-width="1.0"/>
<text x="426.4" y="330.83" font-size="10" text-anchor="end" >10</text>
<line x1="431.6" y1="317.73" x2="434.6" y2="317.73" stroke="#2a2a2a" stroke-width="1.0"/>
<line x1="674.4" y1="317.73" x2="677.4" y2="317.73" stroke="#2a2a2a" stroke-width="1.0"/>
<line x1="429.6" y1="308.12" x2="434.6" y2="308.12" stroke="#2a2a2a" stroke-width="1.0"/>
<line x1="672.4" y1="308.12" x2="677.4" y2="308.12" stroke="#2a2a2a" stroke-width="1.0"/>
<text x="426.4" y="311.62" font-size="10" text-anchor="end" >12</text>
<line x1="431.6" y1="298.52" x2="434.6" y2="298.52" stroke="#2a2a2a" stroke-width="1.0"/>
<line x1="674.4" y1="298.52" x2="677.4" y2="298.52" stroke="#2a2a2a" stroke-width="1.0"/>
<line x1="429.6" y1="288.91" x2="434.6" y2="288.91" stroke="#2a2a2a" stroke-width="1.0"/>
<line x1="672.4" y1="288.91" x2="677.4" y2="288.91" stroke="#2a2a2a" stroke-width="1.0"/>
<text x="426.4" y="292.41" font-size="10" text-anchor="end" >14</text>
<line x1="431.6" y1="279.31" x2="434.6" y2="279.31" stroke="#2a2a2a" stroke-width="1.0"/>
<line x1="674.4" y1="279.31" x2="677.4" y2="279.31" stroke="#2a2a2a" stroke-width="1.0"/>
<line x1="429.6" y1="269.7" x2="434.6" y2="269.7" stroke="#2a2a2a" stroke-width="1.0"/>
<line x1="672.4" y1="269.7" x2="677.4" y2="269.7" stroke="#2a2a2a" stroke-width="1.0"/>
<text x="426.4" y="273.2" font-size="10" text-anchor="end" >16</text>
<text x="556.6" y="69.4" font-size="13.3" text-anchor="middle" >Time (min)</text>
<text x="556" y="478.6" font-size="13.3" text-anchor="middle" >Molar Ratio</text>
<text x="546" y="12.9" font-size="17.75" text-anchor="middle" >Parkin V244A (22.7 µM)</text>
<text x="545.7" y="34" font-size="17.75" text-anchor="middle" >+ pUb (272 µM)</text>
<text x="549.6" y="176.6" font-size="17.8">K<tspan font-size="12" dy="3.3">D</tspan><tspan dy="-3.3"> 270 nM</tspan></text>
<text transform="translate(10.2,191.2) rotate(-90)" font-size="13.3" text-anchor="middle">µcal/sec</text>
<text transform="translate(15.7,364.3) rotate(-90)" font-size="13.3" text-anchor="middle">kcal/mole of injectant</text>
<text transform="translate(401.2,191.2) rotate(-90)" font-size="13.3" text-anchor="middle">µcal/sec</text>
<text transform="translate(406.7,364.3) rotate(-90)" font-size="13.3" text-anchor="middle">kcal/mole of injectant</text>
<polyline fill="none" stroke="#333" stroke-width="0.9" stroke-linejoin="round" points="60.8,246.45 63,246.45 63.4,182.4 63.6,200.56 63.8,213.57 64,222.89 64.2,229.57 64.4,234.35 64.6,237.78 64.8,240.24 65,242 65.2,243.26 65.4,244.17 65.6,244.81 65.8,245.28 66,245.61 66.2,245.85 66.4,246.02 66.6,246.14 66.8,246.23 67,246.29 70,246.45 70.4,110 70.6,148.68 70.8,176.39 71,196.25 71.2,210.48 71.4,220.68 71.6,227.98 71.8,233.22 72,236.97 72.2,239.66 72.4,241.58 72.6,242.96 72.8,243.95 73,244.66 73.2,245.17 73.4,245.53 73.6,245.79 73.8,245.98 74,246.11 77,246.45 77.4,109 77.6,147.96 77.8,175.88 78,195.88 78.2,210.22 78.4,220.49 78.6,227.85 78.8,233.12 79,236.9 79.2,239.61 79.4,241.55 79.6,242.94 79.8,243.93 80,244.65 80.2,245.16 80.4,245.52 80.6,245.79 80.8,245.97 81,246.11 83.9,246.45 84.3,110.4 84.5,148.97 84.7,176.6 84.9,196.4 85.1,210.59 85.3,220.75 85.5,228.04 85.7,233.26 85.9,237 86.1,239.68 86.3,241.6 86.5,242.97 86.7,243.96 86.9,244.66 87.1,245.17 87.3,245.53 87.5,245.79 87.7,245.98 87.9,246.11 90.9,246.45 91.3,112.5 91.5,150.47 91.7,177.68 91.9,197.17 92.1,211.14 92.3,221.15 92.5,228.32 92.7,233.46 92.9,237.14 93.1,239.78 93.3,241.67 93.5,243.03 93.7,244 93.9,244.69 94.1,245.19 94.3,245.55 94.5,245.8 94.7,245.99 94.9,246.12 97.7,246.45 98.1,116 98.3,152.98 98.5,179.47 98.7,198.46 98.9,212.06 99.1,221.81 99.3,228.8 99.5,233.8 99.7,237.39 99.9,239.96 100.1,241.8 100.3,243.12 100.5,244.06 100.7,244.74 100.9,245.22 101.1,245.57 101.3,245.82 101.5,246 101.7,246.13 104.7,246.45 105.1,121.9 105.3,157.21 105.5,182.5 105.7,200.63 105.9,213.62 106.1,222.93 106.3,229.59 106.5,234.37 106.7,237.8 106.9,240.25 107.1,242.01 107.3,243.27 107.5,244.17 107.7,244.82 107.9,245.28 108.1,245.61 108.3,245.85 108.5,246.02 108.7,246.14 111.6,246.45 112,130.6 112.2,163.44 112.4,186.97 112.6,203.83 112.8,215.91 113,224.57 113.2,230.77 113.4,235.22 113.6,238.4 113.8,240.68 114,242.32 114.2,243.49 114.4,244.33 114.6,244.93 114.8,245.36 115,245.67 115.2,245.89 115.4,246.05 115.6,246.16 118.6,246.45 119,144.6 119.2,173.47 119.4,194.16 119.6,208.98 119.8,219.6 120,227.21 120.2,232.67 120.4,236.57 120.6,239.37 120.8,241.38 121,242.82 121.2,243.85 121.4,244.58 121.6,245.11 121.8,245.49 122,245.76 122.2,245.96 122.4,246.1 122.6,246.2 125.5,246.45 125.9,164.2 126.1,187.52 126.3,204.22 126.5,216.19 126.7,224.77 126.9,230.91 127.1,235.32 127.3,238.47 127.5,240.73 127.7,242.36 127.9,243.52 128.1,244.35 128.3,244.94 128.5,245.37 128.7,245.68 128.9,245.9 129.1,246.05 129.3,246.17 129.5,246.25 132.4,246.45 132.8,192.3 133,207.65 133.2,218.65 133.4,226.53 133.6,232.18 133.8,236.22 134,239.12 134.2,241.2 134.4,242.69 134.6,243.75 134.8,244.52 135,245.07 135.2,245.46 135.4,245.74 135.6,245.94 135.8,246.09 136,246.19 136.2,246.26 136.4,246.32 139.3,246.45 139.7,219 139.9,226.78 140.1,232.36 140.3,236.35 140.5,239.21 140.7,241.27 140.9,242.74 141.1,243.79 141.3,244.54 141.5,245.08 141.7,245.47 141.9,245.75 142.1,245.95 142.3,246.09 142.5,246.19 142.7,246.27 142.9,246.32 143.1,246.36 143.3,246.38 146.3,246.45 146.7,234 146.9,237.53 147.1,240.06 147.3,241.87 147.5,243.17 147.7,244.1 147.9,244.77 148.1,245.24 148.3,245.58 148.5,245.83 148.7,246.01 148.9,246.13 149.1,246.22 149.3,246.29 149.5,246.33 149.7,246.37 149.9,246.39 150.1,246.41 150.3,246.42 153.2,246.45 153.6,240.5 153.8,242.19 154,243.4 154.2,244.26 154.4,244.88 154.6,245.33 154.8,245.64 155,245.87 155.2,246.04 155.4,246.15 155.6,246.24 155.8,246.3 156,246.34 156.2,246.37 156.4,246.39 156.6,246.41 156.8,246.42 157,246.43 157.2,246.44 160.1,246.45 160.5,247.65 160.9,246.81 161.2,244.05 161.7,245.37 162.3,246.16 163.1,246.45 167,246.45 167.4,248.75 167.8,247.14 168.1,245.25 168.6,245.91 169.2,246.31 170,246.45 173.8,246.45 174.2,249.65 174.6,247.41 174.9,246.15 175.4,246.31 176,246.41 176.8,246.45 180.6,246.45 181,250.25 181.4,247.59 181.7,246.25 182.2,246.36 182.8,246.43 183.6,246.45 187.4,246.45 187.8,250.65 188.2,247.71 188.5,246.25 189,246.36 189.6,246.43 190.4,246.45 194.4,246.45 194.75,251.05 195.1,248.98 195.5,247.37 196,246.63 196.6,246.45 201.35,246.45 201.7,251.05 202.05,248.98 202.45,247.37 202.95,246.63 203.55,246.45 208.3,246.45 208.65,251.05 209,248.98 209.4,247.37 209.9,246.63 210.5,246.45 215.2,246.45 215.55,251.05 215.9,248.98 216.3,247.37 216.8,246.63 217.4,246.45 222.1,246.45 222.45,251.05 222.8,248.98 223.2,247.37 223.7,246.63 224.3,246.45 229,246.45 229.35,251.05 229.7,248.98 230.1,247.37 230.6,246.63 231.2,246.45 235.9,246.45 236.25,251.05 236.6,248.98 237,247.37 237.5,246.63 238.1,246.45 243,246.45 243.35,251.05 243.7,248.98 244.1,247.37 244.6,246.63 245.2,246.45 249.9,246.45 250.25,251.05 250.6,248.98 251,247.37 251.5,246.63 252.1,246.45 257,246.45 257.35,251.05 257.7,248.98 258.1,247.37 258.6,246.63 259.2,246.45 264.4,246.45"/>
<polyline fill="none" stroke="#333" stroke-width="0.9" stroke-linejoin="round" points="451.9,243.45 454,243.45 454.4,185.1 454.6,201.64 454.8,213.49 455,221.98 455.2,228.07 455.4,232.43 455.6,235.55 455.8,237.79 456,239.4 456.2,240.54 456.4,241.37 456.6,241.96 456.8,242.38 457,242.68 457.2,242.9 457.4,243.06 457.6,243.17 457.8,243.25 458,243.31 460.9,243.45 461.3,111 461.5,148.55 461.7,175.45 461.9,194.72 462.1,208.54 462.3,218.43 462.5,225.52 462.7,230.61 462.9,234.25 463.1,236.86 463.3,238.72 463.5,240.06 463.7,241.02 463.9,241.71 464.1,242.2 464.3,242.56 464.5,242.81 464.7,242.99 464.9,243.12 468,243.45 468.4,108 468.6,146.4 468.8,173.91 469,193.62 469.2,207.75 469.4,217.87 469.6,225.12 469.8,230.32 470,234.04 470.2,236.71 470.4,238.62 470.6,239.99 470.8,240.97 471,241.67 471.2,242.18 471.4,242.54 471.6,242.8 471.8,242.98 472,243.11 474.9,243.45 475.3,110 475.5,147.83 475.7,174.93 475.9,194.36 476.1,208.27 476.3,218.24 476.5,225.39 476.7,230.51 476.9,234.18 477.1,236.81 477.3,238.69 477.5,240.04 477.7,241.01 477.9,241.7 478.1,242.2 478.3,242.55 478.5,242.81 478.7,242.99 478.9,243.12 481.9,243.45 482.3,116 482.5,152.13 482.7,178.01 482.9,196.56 483.1,209.85 483.3,219.38 483.5,226.2 483.7,231.09 483.9,234.59 484.1,237.1 484.3,238.9 484.5,240.19 484.7,241.12 484.9,241.78 485.1,242.25 485.3,242.59 485.5,242.83 485.7,243.01 485.9,243.13 488.9,243.45 489.3,119.4 489.5,154.56 489.7,179.76 489.9,197.81 490.1,210.75 490.3,220.02 490.5,226.66 490.7,231.42 490.9,234.83 491.1,237.27 491.3,239.02 491.5,240.28 491.7,241.18 491.9,241.82 492.1,242.28 492.3,242.61 492.5,242.85 492.7,243.02 492.9,243.14 496,243.45 496.4,129.1 496.6,161.51 496.8,184.74 497,201.38 497.2,213.31 497.4,221.85 497.6,227.97 497.8,232.36 498,235.5 498.2,237.76 498.4,239.37 498.6,240.53 498.8,241.36 499,241.95 499.2,242.37 499.4,242.68 499.6,242.9 499.8,243.05 500,243.17 502.9,243.45 503.3,140 503.5,169.32 503.7,190.34 503.9,205.39 504.1,216.18 504.3,223.91 504.5,229.45 504.7,233.42 504.9,236.26 505.1,238.3 505.3,239.76 505.5,240.81 505.7,241.56 505.9,242.09 506.1,242.48 506.3,242.75 506.5,242.95 506.7,243.09 506.9,243.19 509.9,243.45 510.3,158.2 510.5,182.37 510.7,199.68 510.9,212.09 511.1,220.98 511.3,227.35 511.5,231.91 511.7,235.18 511.9,237.53 512.1,239.21 512.3,240.41 512.5,241.27 512.7,241.89 512.9,242.33 513.1,242.65 513.3,242.88 513.5,243.04 513.7,243.16 513.9,243.24 516.7,243.45 517.1,181.2 517.3,198.85 517.5,211.49 517.7,220.55 517.9,227.04 518.1,231.69 518.3,235.03 518.5,237.41 518.7,239.12 518.9,240.35 519.1,241.23 519.3,241.86 519.5,242.31 519.7,242.63 519.9,242.86 520.1,243.03 520.3,243.15 520.5,243.23 520.7,243.3 523.5,243.45 523.9,205.1 524.1,215.97 524.3,223.76 524.5,229.34 524.7,233.34 524.9,236.21 525.1,238.26 525.3,239.73 525.5,240.79 525.7,241.54 525.9,242.08 526.1,242.47 526.3,242.75 526.5,242.95 526.7,243.09 526.9,243.19 527.1,243.26 527.3,243.32 527.5,243.35 530.4,243.45 530.8,222.3 531,228.3 531.2,232.59 531.4,235.67 531.6,237.87 531.8,239.46 532,240.59 532.2,241.4 532.4,241.98 532.6,242.4 532.8,242.7 533,242.91 533.2,243.06 533.4,243.17 533.6,243.25 533.8,243.31 534,243.35 534.2,243.38 534.4,243.4 537.5,243.45 537.9,232.2 538.1,235.39 538.3,237.67 538.5,239.31 538.7,240.48 538.9,241.33 539.1,241.93 539.3,242.36 539.5,242.67 539.7,242.89 539.9,243.05 540.1,243.16 540.3,243.24 540.5,243.3 540.7,243.34 540.9,243.37 541.1,243.4 541.3,243.41 541.5,243.42 544.4,243.45 544.8,237.9 545,239.47 545.2,240.6 545.4,241.41 545.6,241.99 545.8,242.4 546,242.7 546.2,242.91 546.4,243.06 546.6,243.17 546.8,243.25 547,243.31 547.2,243.35 547.4,243.38 547.6,243.4 547.8,243.41 548,243.42 548.2,243.43 548.4,243.44 551.2,243.45 551.6,245.65 552,244.11 552.3,241.35 552.8,242.5 553.4,243.2 554.2,243.45 558.1,243.45 558.5,246.95 558.9,244.5 559.2,242.55 559.7,243.04 560.3,243.34 561.1,243.45 564.8,243.45 565.2,247.65 565.6,244.71 565.9,242.75 566.4,243.13 567,243.37 567.8,243.45 571.7,243.45 572.1,248.15 572.5,244.86 572.8,242.95 573.3,243.22 573.9,243.39 574.7,243.45 578.6,243.45 578.95,248.45 579.3,246.2 579.7,244.45 580.2,243.65 580.8,243.45 585.6,243.45 585.95,248.45 586.3,246.2 586.7,244.45 587.2,243.65 587.8,243.45 592.5,243.45 592.85,248.45 593.2,246.2 593.6,244.45 594.1,243.65 594.7,243.45 599.7,243.45 600.05,248.45 600.4,246.2 600.8,244.45 601.3,243.65 601.9,243.45 606.7,243.45 607.05,248.45 607.4,246.2 607.8,244.45 608.3,243.65 608.9,243.45 613.4,243.45 613.75,248.45 614.1,246.2 614.5,244.45 615,243.65 615.6,243.45 620.6,243.45 620.95,248.45 621.3,246.2 621.7,244.45 622.2,243.65 622.8,243.45 627.5,243.45 627.85,248.45 628.2,246.2 628.6,244.45 629.1,243.65 629.7,243.45 634.3,243.45 634.65,248.45 635,246.2 635.4,244.45 635.9,243.65 636.5,243.45 641.3,243.45 641.65,248.45 642,246.2 642.4,244.45 642.9,243.65 643.5,243.45 648.1,243.45 648.45,248.45 648.8,246.2 649.2,244.45 649.7,243.65 650.3,243.45 655.9,243.45"/>
<polyline fill="none" stroke="#333" stroke-width="0.8" points="63.9,282.3 70.4,282.4 76.4,282.5 83,282.8 89.5,283.6 95.9,285 102.5,287.6 109.1,291.6 115.7,300.4 122.3,318.5 129,351.3 135.7,383.5 142.5,402.8 149.6,411.3 156.3,415.1 163.3,417.4 170.6,419 177.4,419.9 184.5,420.5 191.5,420.8 198.6,421 205.9,421.2 213.2,421.3 220.7,421.4 227.7,421.5 235.3,421.5 242.6,421.6 250,421.6 257.7,421.7"/>
<polyline fill="none" stroke="#333" stroke-width="0.8" points="456.1,287.3 463.1,287.7 469.7,288.3 476.5,289.1 483.5,290.7 490.3,293 497.3,296.6 504.1,301 511,318.6 518,344 525,372.3 532.2,393 539.4,405.7 546.6,412.9 553.8,416.3 561.2,418.5 568.5,419.9 575.9,420.8 583.3,421.4 590.9,421.8 598.5,422.1 606.1,422.3 613.5,422.4 621.2,422.5 629,422.6 636.8,422.6 644.6,422.7 652.7,422.7 660.5,422.8"/>
<rect x="67.8" y="282.4" width="5.2" height="5.2" fill="#1e1e1e"/>
<rect x="73.8" y="279.9" width="5.2" height="5.2" fill="#1e1e1e"/>
<rect x="80.4" y="279.9" width="5.2" height="5.2" fill="#1e1e1e"/>
<rect x="86.9" y="280.8" width="5.2" height="5.2" fill="#1e1e1e"/>
<rect x="93.3" y="281.9" width="5.2" height="5.2" fill="#1e1e1e"/>
<rect x="99.9" y="284.8" width="5.2" height="5.2" fill="#1e1e1e"/>
<rect x="106.5" y="288.8" width="5.2" height="5.2" fill="#1e1e1e"/>
<rect x="113.1" y="297.8" width="5.2" height="5.2" fill="#1e1e1e"/>
<rect x="119.7" y="315.9" width="5.2" height="5.2" fill="#1e1e1e"/>
<rect x="126.4" y="348.7" width="5.2" height="5.2" fill="#1e1e1e"/>
<rect x="133.1" y="380.9" width="5.2" height="5.2" fill="#1e1e1e"/>
<rect x="139.9" y="400.2" width="5.2" height="5.2" fill="#1e1e1e"/>
<rect x="147" y="408.7" width="5.2" height="5.2" fill="#1e1e1e"/>
<rect x="153.7" y="412.5" width="5.2" height="5.2" fill="#1e1e1e"/>
<rect x="160.7" y="414.8" width="5.2" height="5.2" fill="#1e1e1e"/>
<rect x="168" y="416.7" width="5.2" height="5.2" fill="#1e1e1e"/>
<rect x="174.8" y="416.7" width="5.2" height="5.2" fill="#1e1e1e"/>
<rect x="181.9" y="418" width="5.2" height="5.2" fill="#1e1e1e"/>
<rect x="188.9" y="418.9" width="5.2" height="5.2" fill="#1e1e1e"/>
<rect x="196" y="418" width="5.2" height="5.2" fill="#1e1e1e"/>
<rect x="203.3" y="418.4" width="5.2" height="5.2" fill="#1e1e1e"/>
<rect x="210.6" y="418.9" width="5.2" height="5.2" fill="#1e1e1e"/>
<rect x="218.1" y="418" width="5.2" height="5.2" fill="#1e1e1e"/>
<rect x="225.1" y="418.2" width="5.2" height="5.2" fill="#1e1e1e"/>
<rect x="232.7" y="419.1" width="5.2" height="5.2" fill="#1e1e1e"/>
<rect x="240" y="418.6" width="5.2" height="5.2" fill="#1e1e1e"/>
<rect x="247.4" y="418.6" width="5.2" height="5.2" fill="#1e1e1e"/>
<rect x="255.1" y="419.6" width="5.2" height="5.2" fill="#1e1e1e"/>
<rect x="460.5" y="288.6" width="5.2" height="5.2" fill="#1e1e1e"/>
<rect x="467.1" y="283.3" width="5.2" height="5.2" fill="#1e1e1e"/>
<rect x="473.9" y="283.5" width="5.2" height="5.2" fill="#1e1e1e"/>
<rect x="480.9" y="291.7" width="5.2" height="5.2" fill="#1e1e1e"/>
<rect x="487.7" y="289.5" width="5.2" height="5.2" fill="#1e1e1e"/>
<rect x="494.7" y="296.2" width="5.2" height="5.2" fill="#1e1e1e"/>
<rect x="501.5" y="298" width="5.2" height="5.2" fill="#1e1e1e"/>
<rect x="508.4" y="316" width="5.2" height="5.2" fill="#1e1e1e"/>
<rect x="515.4" y="341.4" width="5.2" height="5.2" fill="#1e1e1e"/>
<rect x="522.4" y="369.7" width="5.2" height="5.2" fill="#1e1e1e"/>
<rect x="529.6" y="390.4" width="5.2" height="5.2" fill="#1e1e1e"/>
<rect x="536.8" y="403.1" width="5.2" height="5.2" fill="#1e1e1e"/>
<rect x="544" y="410.3" width="5.2" height="5.2" fill="#1e1e1e"/>
<rect x="551.2" y="413.7" width="5.2" height="5.2" fill="#1e1e1e"/>
<rect x="558.6" y="415.9" width="5.2" height="5.2" fill="#1e1e1e"/>
<rect x="565.9" y="417.1" width="5.2" height="5.2" fill="#1e1e1e"/>
<rect x="573.3" y="417.9" width="5.2" height="5.2" fill="#1e1e1e"/>
<rect x="580.7" y="418.1" width="5.2" height="5.2" fill="#1e1e1e"/>
<rect x="588.3" y="418.9" width="5.2" height="5.2" fill="#1e1e1e"/>
<rect x="595.9" y="420" width="5.2" height="5.2" fill="#1e1e1e"/>
<rect x="603.5" y="420.3" width="5.2" height="5.2" fill="#1e1e1e"/>
<rect x="610.9" y="420.3" width="5.2" height="5.2" fill="#1e1e1e"/>
<rect x="618.6" y="420" width="5.2" height="5.2" fill="#1e1e1e"/>
<rect x="626.4" y="419.9" width="5.2" height="5.2" fill="#1e1e1e"/>
<rect x="634.2" y="420.1" width="5.2" height="5.2" fill="#1e1e1e"/>
<rect x="642" y="419.8" width="5.2" height="5.2" fill="#1e1e1e"/>
<rect x="650.1" y="420.9" width="5.2" height="5.2" fill="#1e1e1e"/>
<rect x="657.9" y="420.6" width="5.2" height="5.2" fill="#1e1e1e"/>
<rect x="147.7" y="296.4" width="120.2" height="86" fill="#fff" stroke="#555" stroke-width="1"/>
<text x="159.8" y="313.7" font-size="7.33" text-anchor="start" stroke="#1e1e1e" stroke-width="0.22">Data: A30uMParkin_NDH</text>
<text x="159.8" y="323.15" font-size="7.33" text-anchor="start" stroke="#1e1e1e" stroke-width="0.22">Model: OneSites</text>
<text x="159.8" y="332.6" font-size="7.33" text-anchor="start" stroke="#1e1e1e" stroke-width="0.22">Chi^2/DoF = 5120</text>
<text x="159.8" y="342.05" font-size="7.33" text-anchor="start" stroke="#1e1e1e" stroke-width="0.22">N</text>
<text x="185.9" y="342.05" font-size="7.33" text-anchor="start" stroke="#1e1e1e" stroke-width="0.22">0.949</text>
<text x="212" y="342.05" font-size="7.33" text-anchor="start" stroke="#1e1e1e" stroke-width="0.22">±0.0014</text>
<text x="159.8" y="351.5" font-size="7.33" text-anchor="start" stroke="#1e1e1e" stroke-width="0.22">K</text>
<text x="185.9" y="351.5" font-size="7.33" text-anchor="start" stroke="#1e1e1e" stroke-width="0.22">5.04E6 ±1.5E5</text>
<text x="159.8" y="360.95" font-size="7.33" text-anchor="start" stroke="#1e1e1e" stroke-width="0.22"><tspan font-size="5.8">Δ</tspan>H</text>
<text x="185.9" y="360.95" font-size="7.33" text-anchor="start" stroke="#1e1e1e" stroke-width="0.22">1.390E4</text>
<text x="238.1" y="360.95" font-size="7.33" text-anchor="start" stroke="#1e1e1e" stroke-width="0.22">±32.8</text>
<text x="159.8" y="370.4" font-size="7.33" text-anchor="start" stroke="#1e1e1e" stroke-width="0.22"><tspan font-size="5.8">Δ</tspan>S</text>
<text x="185.9" y="370.4" font-size="7.33" text-anchor="start" stroke="#1e1e1e" stroke-width="0.22">78.1</text>
<rect x="539.8" y="295.9" width="120.6" height="83.5" fill="#fff" stroke="#555" stroke-width="1"/>
<text x="551.9" y="312.7" font-size="7.33" text-anchor="start" stroke="#1e1e1e" stroke-width="0.22">Data: A30uMParkin_NDH</text>
<text x="551.9" y="322.07" font-size="7.33" text-anchor="start" stroke="#1e1e1e" stroke-width="0.22">Model: OneSites</text>
<text x="551.9" y="331.44" font-size="7.33" text-anchor="start" stroke="#1e1e1e" stroke-width="0.22">Chi^2/DoF = 2.870E4</text>
<text x="551.9" y="340.81" font-size="7.33" text-anchor="start" stroke="#1e1e1e" stroke-width="0.22">N</text>
<text x="578.4" y="340.81" font-size="7.33" text-anchor="start" stroke="#1e1e1e" stroke-width="0.22">0.875</text>
<text x="604.5" y="340.81" font-size="7.33" text-anchor="start" stroke="#1e1e1e" stroke-width="0.22">±0.0036</text>
<text x="551.9" y="350.18" font-size="7.33" text-anchor="start" stroke="#1e1e1e" stroke-width="0.22">K</text>
<text x="578.4" y="350.18" font-size="7.33" text-anchor="start" stroke="#1e1e1e" stroke-width="0.22">3.75E6 ±2.5E5</text>
<text x="551.9" y="359.55" font-size="7.33" text-anchor="start" stroke="#1e1e1e" stroke-width="0.22"><tspan font-size="5.8">Δ</tspan>H</text>
<text x="578.4" y="359.55" font-size="7.33" text-anchor="start" stroke="#1e1e1e" stroke-width="0.22">1.436E4</text>
<text x="630.8" y="359.55" font-size="7.33" text-anchor="start" stroke="#1e1e1e" stroke-width="0.22">±87.9</text>
<text x="551.9" y="368.92" font-size="7.33" text-anchor="start" stroke="#1e1e1e" stroke-width="0.22"><tspan font-size="5.8">Δ</tspan>S</text>
<text x="578.4" y="368.92" font-size="7.33" text-anchor="start" stroke="#1e1e1e" stroke-width="0.22">79.0</text>
</svg>
</body></html>
